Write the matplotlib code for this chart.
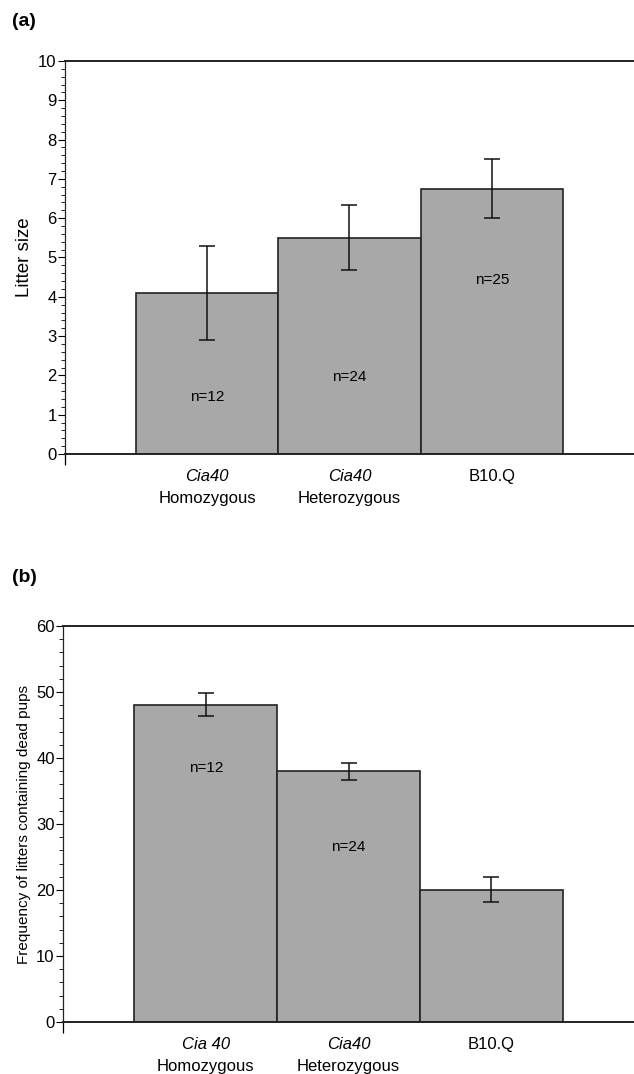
import matplotlib.pyplot as plt
from matplotlib.ticker import MultipleLocator, FixedLocator

plt.rcParams['font.family'] = ['Liberation Sans', 'DejaVu Sans']

# panel (a) - litter size
groups_a = ['Cia40', 'Cia40', 'B10.Q']
sub_a = ['Homozygous', 'Heterozygous', '']
litter_size = [4.1, 5.5, 6.75]
litter_lo = [2.9, 4.68, 6.0]
litter_hi = [5.3, 6.33, 7.5]
n_labels = ['n=12', 'n=24', 'n=25']
n_pos_a = [1.45, 1.96, 4.43]

# panel (b) - frequency of litters containing dead pups
groups_b = ['Cia 40', 'Cia40', 'B10.Q']
sub_b = ['Homozygous', 'Heterozygous', '']
dead_freq = [48, 38, 20]
dead_lo = [46.3, 36.7, 18.2]
dead_hi = [49.8, 39.2, 21.9]
n_labels_b = ['n=12', 'n=24', '']
n_pos_b = [38.5, 26.5, 0]

bar_color = '#a8a8a8'


def draw_panel(ax, vals, lo, hi, groups, subs, nlab, npos, ymax, major, minor, ylabel, ylsize):
    x = list(range(len(vals)))
    ax.bar(x, vals, width=1.0, color=bar_color, edgecolor='#222222', linewidth=1.2, zorder=2)
    yerr = [[v - l for v, l in zip(vals, lo)], [h - v for v, h in zip(vals, hi)]]
    ax.errorbar(x, vals, yerr=yerr, fmt='none', ecolor='#111111', elinewidth=1.1,
                capsize=6, capthick=1.1, zorder=3)
    for xi, t, p in zip(x, nlab, npos):
        if t:
            ax.text(xi, p, t, ha='center', va='center', fontsize=11, zorder=4)
    ax.set_xlim(-1, 3)
    ax.set_ylim(0, ymax)
    ax.yaxis.set_major_locator(MultipleLocator(major))
    ax.yaxis.set_minor_locator(MultipleLocator(minor))
    ax.tick_params(axis='y', which='major', direction='out', length=5, width=0.8,
                   labelsize=12, pad=1)
    ax.tick_params(axis='y', which='minor', direction='out', length=3, width=0.6)
    ax.set_xticks([])
    ax.xaxis.set_minor_locator(FixedLocator([-1]))
    ax.tick_params(axis='x', which='minor', direction='out', length=8, width=0.9)
    for s in ['left', 'top', 'bottom']:
        ax.spines[s].set_linewidth(1.4)
        ax.spines[s].set_color('#222222')
    ax.spines['right'].set_visible(False)
    ax.spines['left'].set_linewidth(0.9)
    trans = ax.get_xaxis_transform()
    for xi, g, s in zip(x, groups, subs):
        if s:
            ax.text(xi, -0.057, g, transform=trans, ha='center', va='center',
                    style='italic', fontsize=12)
            ax.text(xi, -0.113, s, transform=trans, ha='center', va='center', fontsize=12)
        else:
            ax.text(xi, -0.057, g, transform=trans, ha='center', va='center', fontsize=12)
    ax.set_ylabel(ylabel, fontsize=ylsize, labelpad=4)


fig = plt.figure(figsize=(6.34, 10.74), dpi=100)
ax1 = fig.add_axes([0.1025, 0.5773, 0.8975, 0.3659])
ax2 = fig.add_axes([0.0994, 0.0484, 0.9006, 0.3687])

draw_panel(ax1, litter_size, litter_lo, litter_hi, groups_a, sub_a, n_labels, n_pos_a,
           10, 1, 0.2, 'Litter size', 13.5)
draw_panel(ax2, dead_freq, dead_lo, dead_hi, groups_b, sub_b, n_labels_b, n_pos_b,
           60, 10, 2, 'Frequency of litters containing dead pups', 11)

fig.text(12 / 634, 1 - 22 / 1074, '(a)', fontsize=14, fontweight='bold', va='center')
fig.text(12 / 634, 1 - 578 / 1074, '(b)', fontsize=14, fontweight='bold', va='center')

fig.savefig('out.png', dpi=100)
